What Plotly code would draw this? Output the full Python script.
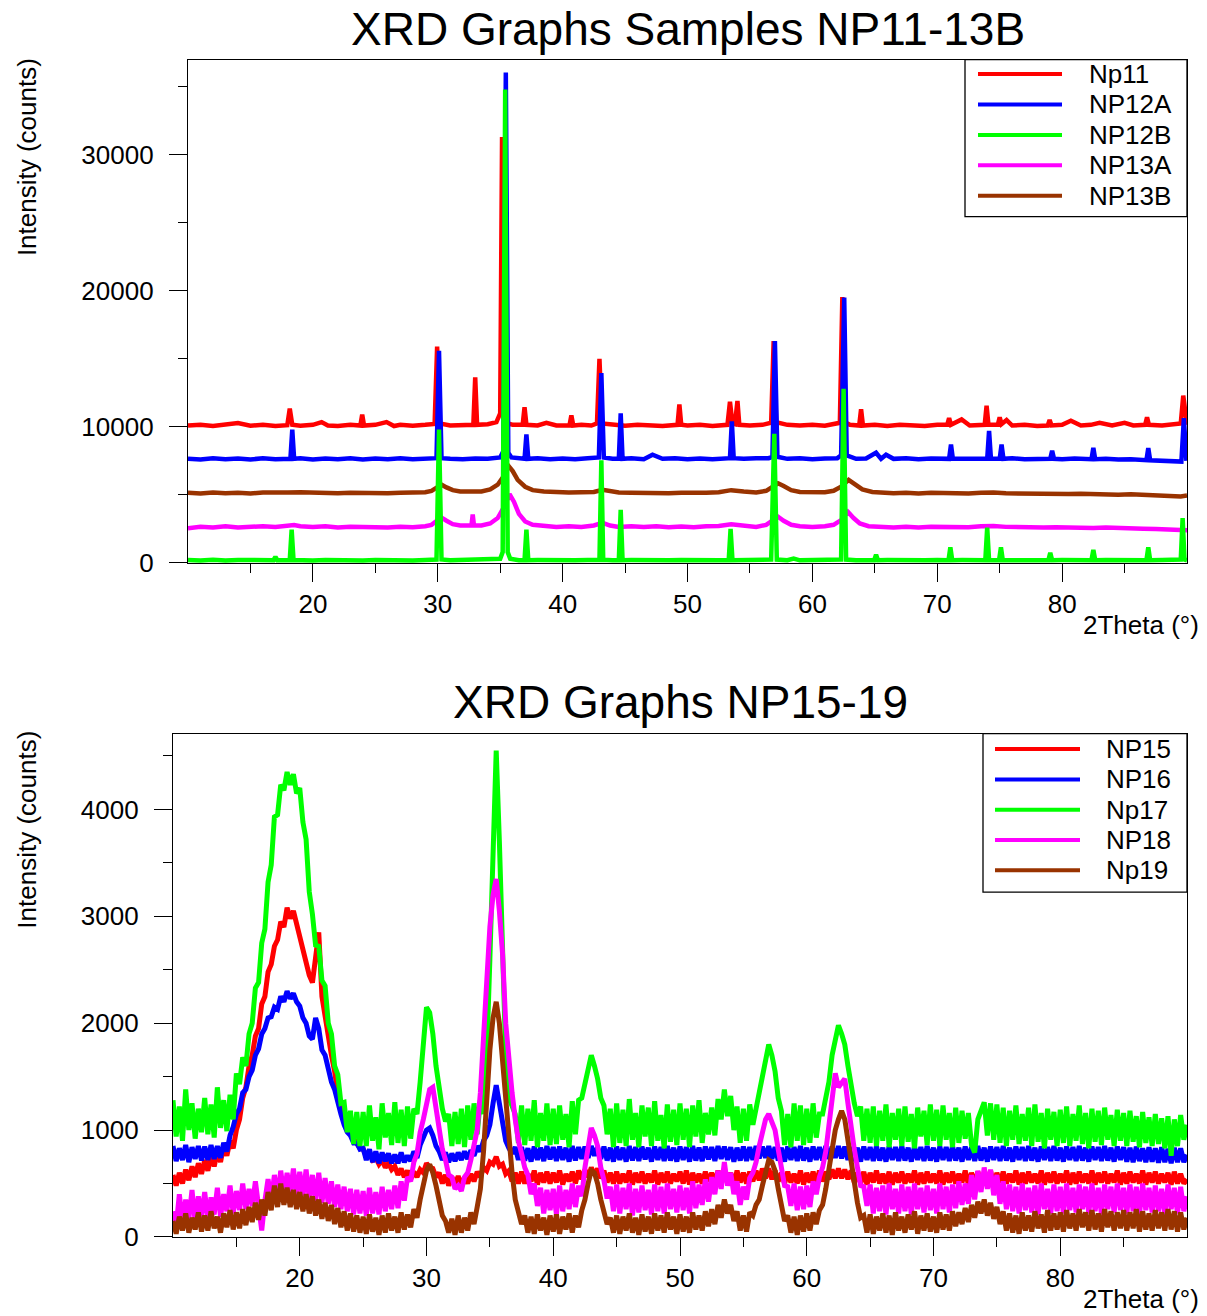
import plotly.graph_objects as go

FIG_W, FIG_H = 1207, 1332
# Layout positions below are given on a 1207 x 1316 grid and mapped to paper fractions
GRID_W, GRID_H = 1207, 1316
FONT = "Liberation Sans, Arial, Helvetica, sans-serif"

# ---------------------------------------------------------------------------
# Upper panel: samples NP11-13B, (2theta in degrees, intensity in counts)
# ---------------------------------------------------------------------------
np11 = [
    (10, 10100), (11, 10160), (12, 10060), (13, 10150), (14, 10280), (15, 10080),
    (16, 10160), (17, 10060), (17.95, 10120), (18.15, 11350), (18.35, 10150),
    (19, 10080), (20, 10150), (20.7, 10350), (21.2, 10100), (22, 10060), (23, 10150),
    (23.8, 10100), (23.95, 10900), (24.1, 10100), (25, 10150), (25.9, 10350),
    (26.5, 10060), (27, 10150), (28, 10080), (29, 10150),
    (29.75, 10220), (29.95, 15900), (30.15, 10250), (31, 10100), (32, 10150),
    (32.85, 10150), (33.0, 13650), (33.15, 10150), (34, 10200), (34.7, 10350),
    (35.0, 11000), (35.15, 31300), (35.3, 10600), (35.5, 10300), (36, 10150),
    (36.8, 10150), (36.95, 11450), (37.1, 10150), (38, 10100), (38.7, 10300),
    (39.5, 10100), (40.55, 10100), (40.7, 10850), (40.85, 10100), (41.5, 10150),
    (42.3, 10100), (42.75, 10250), (42.95, 15000), (43.15, 10250), (44, 10150),
    (45, 10080), (46, 10150), (47, 10100), (48, 10060),
    (49.2, 10150), (49.35, 11650), (49.5, 10150), (50, 10100), (51, 10150), (52, 10060),
    (53.2, 10150), (53.4, 11850), (53.6, 10250), (53.8, 10200), (54.0, 11900),
    (54.15, 10150), (55, 10100), (56, 10150), (56.7, 10300), (56.9, 16300),
    (57.1, 10350), (58, 10150), (59, 10100), (60, 10150), (61, 10080),
    (62.2, 10300), (62.4, 19550), (62.6, 10350), (63, 10150), (63.75, 10100),
    (63.9, 11300), (64.05, 10100), (65, 10150), (66, 10060), (67, 10150),
    (68, 10100), (69, 10060), (70, 10150), (70.8, 10150), (70.95, 10650),
    (71.1, 10150), (71.95, 10550), (72.6, 10100), (73.8, 10150), (73.95, 11550),
    (74.1, 10150), (74.85, 10150), (75.0, 10700), (75.15, 10200), (75.55, 10500),
    (76.0, 10100), (77, 10150), (78, 10060), (78.85, 10100), (79.0, 10500),
    (79.15, 10100), (80, 10150), (80.7, 10450), (81.5, 10100), (82.3, 10150),
    (83.0, 10300), (84.0, 10100), (85.0, 10300), (85.7, 10100), (86.65, 10150),
    (86.8, 10700), (86.95, 10150), (88, 10100), (89, 10150), (89.5, 10250),
    (89.7, 12300), (89.9, 10300), (90, 10150),
]

np12a = [
    (10, 7650), (11, 7600), (12, 7700), (13, 7620), (14, 7680), (15, 7600),
    (16, 7700), (17, 7620), (18.2, 7650), (18.35, 9800), (18.5, 7650), (19, 7700),
    (20, 7600), (21, 7680), (22, 7620), (23, 7700), (24, 7600), (25, 7680),
    (26, 7620), (27, 7700), (28, 7620), (29, 7650), (29.9, 7700), (30.1, 15600),
    (30.3, 7700), (31, 7650), (32, 7620), (33, 7680), (34, 7650), (35.0, 7750),
    (35.25, 8200), (35.45, 36050), (35.65, 8100), (35.9, 7750), (36.5, 7650),
    (36.95, 7650), (37.1, 9450), (37.25, 7650), (38, 7700), (39, 7620), (40, 7680),
    (41, 7620), (42, 7700), (42.9, 7750), (43.1, 13950), (43.3, 7750), (44, 7650),
    (44.5, 7650), (44.65, 11000), (44.8, 7650), (45.5, 7700), (46.5, 7620),
    (47.2, 7950), (48, 7650), (49, 7700), (50, 7620), (51, 7680), (52, 7620),
    (53.4, 7700), (53.55, 10400), (53.7, 7700), (54.5, 7650), (55.5, 7700),
    (56.5, 7700), (56.8, 7800), (57.0, 16300), (57.2, 7800), (58, 7650), (59, 7700),
    (60, 7620), (61, 7680), (62.0, 7700), (62.3, 7900), (62.55, 19500),
    (62.75, 7900), (63.5, 7650), (64.3, 7680), (65.1, 8100), (65.5, 7650),
    (65.9, 7950), (66.5, 7650), (67.5, 7700), (68.5, 7620), (69.5, 7680),
    (70.95, 7650), (71.1, 8700), (71.25, 7650), (72, 7650), (73, 7700),
    (74.0, 7650), (74.15, 9700), (74.3, 7650), (75.0, 7650), (75.15, 8700),
    (75.3, 7650), (76, 7700), (77, 7620), (78, 7650), (79.05, 7650), (79.2, 8250),
    (79.35, 7650), (80, 7620), (81, 7680), (82.35, 7620), (82.5, 8450),
    (82.65, 7620), (83.5, 7650), (84.5, 7600), (85.5, 7620), (86.75, 7550),
    (86.9, 8450), (87.05, 7550), (88, 7500), (89, 7400), (89.55, 7450),
    (89.75, 10650), (89.95, 7500),
]

np12b = [
    (10, 220), (11, 180), (12, 230), (13, 170), (14, 220), (15, 190), (16, 210),
    (16.85, 200), (17.0, 450), (17.15, 200), (18.15, 220), (18.3, 2450),
    (18.45, 220), (19, 200), (20, 180), (21, 220), (22, 190), (23, 210), (24, 180),
    (25, 220), (26, 190), (27, 210), (28, 180), (29, 220), (29.9, 250),
    (30.1, 9800), (30.3, 250), (31, 200), (32, 220), (33, 190), (34, 220),
    (35.0, 300), (35.2, 800), (35.4, 34800), (35.6, 800), (35.8, 300), (36.5, 200),
    (36.95, 200), (37.1, 2450), (37.25, 200), (38, 210), (39, 180), (40, 220),
    (41, 190), (42, 210), (42.95, 230), (43.1, 7550), (43.25, 230), (44, 200),
    (44.5, 200), (44.65, 3900), (44.8, 200), (45.5, 210), (46.5, 180), (47.5, 220),
    (48.5, 190), (49.5, 210), (50.5, 180), (51.5, 220), (52.5, 190), (53.3, 200),
    (53.45, 2500), (53.6, 200), (54.5, 210), (55.5, 190), (56.7, 250),
    (56.95, 9500), (57.15, 250), (58, 200), (58.5, 320), (59, 190), (60, 220),
    (61, 190), (62.3, 250), (62.5, 12800), (62.7, 250), (63.5, 200), (64.3, 180),
    (64.95, 200), (65.1, 600), (65.25, 200), (66, 210), (67, 180), (68, 220),
    (69, 190), (70, 210), (70.9, 200), (71.05, 1150), (71.2, 200), (72, 210),
    (73, 190), (73.85, 200), (74.0, 2600), (74.15, 200), (74.95, 200),
    (75.1, 1150), (75.25, 200), (76, 210), (77, 180), (78, 220), (78.9, 200),
    (79.05, 750), (79.2, 200), (80, 210), (81, 190), (82.35, 200), (82.5, 950),
    (82.65, 200), (83.5, 220), (84.5, 190), (85.5, 210), (86.75, 200),
    (86.9, 1150), (87.05, 200), (88, 210), (89, 190), (89.5, 250), (89.65, 3300),
    (89.8, 250), (90, 200),
]

np13a = [
    (10, 2550), (11, 2650), (12, 2600), (13, 2700), (14, 2600), (15, 2650),
    (16, 2700), (17, 2650), (18, 2700), (18.5, 2780), (19, 2700), (20, 2650),
    (21, 2700), (22, 2600), (23, 2650), (24, 2620), (25, 2650), (26, 2600),
    (27, 2650), (28, 2620), (29, 2700), (29.5, 2800), (30.0, 3150), (30.3, 3330),
    (30.7, 3100), (31.2, 2850), (31.8, 2750), (32.5, 2700), (32.7, 2750),
    (32.8, 3550), (32.9, 2750), (33.5, 2750), (34.2, 2900), (34.8, 3300),
    (35.3, 4100), (35.75, 5050), (36.1, 4500), (36.5, 3600), (37.0, 3050),
    (37.6, 2800), (38.5, 2700), (39.5, 2650), (40.5, 2700), (41.5, 2650),
    (42.5, 2750), (43.2, 2950), (43.8, 2750), (44.5, 2650), (45.5, 2700),
    (46.5, 2650), (47.5, 2700), (48.5, 2620), (49.5, 2680), (50.5, 2620),
    (51.5, 2700), (52.5, 2720), (53.5, 2850), (54.5, 2750), (55.5, 2650),
    (56.3, 2800), (56.9, 3150), (57.25, 3400), (57.7, 3100), (58.3, 2800),
    (59, 2700), (60, 2650), (61, 2700), (61.7, 2800), (62.3, 3150), (62.85, 3750),
    (63.3, 3300), (63.8, 2900), (64.5, 2700), (65.5, 2650), (66.5, 2600),
    (67.5, 2650), (68.5, 2600), (69.5, 2650), (70.5, 2620), (71.5, 2650),
    (72.5, 2620), (73.5, 2700), (74.5, 2720), (75.5, 2650), (76.5, 2620),
    (77.5, 2660), (78.5, 2600), (79.5, 2620), (80.5, 2580), (81.5, 2620),
    (82.5, 2560), (83.5, 2600), (84.5, 2550), (85.5, 2580), (86.5, 2520),
    (87.5, 2500), (88.5, 2450), (89.5, 2380), (90, 2400),
]

np13b = [
    (10, 5150), (11, 5100), (12, 5180), (13, 5120), (14, 5150), (15, 5100),
    (16, 5180), (17, 5150), (18, 5180), (19, 5200), (20, 5150), (21, 5180),
    (22, 5120), (23, 5160), (24, 5130), (25, 5170), (26, 5120), (27, 5160),
    (28, 5150), (29, 5200), (29.5, 5300), (30.0, 5550), (30.3, 5750),
    (30.7, 5550), (31.2, 5350), (31.8, 5250), (32.5, 5220), (33.5, 5250),
    (34.2, 5400), (34.8, 5750), (35.3, 6400), (35.65, 7150), (36.0, 6750),
    (36.4, 6100), (37.0, 5600), (37.6, 5350), (38.5, 5250), (39.5, 5200),
    (40.5, 5180), (41.5, 5200), (42.5, 5220), (43.2, 5380), (43.8, 5250),
    (44.5, 5180), (45.5, 5150), (46.5, 5120), (47.5, 5160), (48.5, 5120),
    (49.5, 5150), (50.5, 5120), (51.5, 5160), (52.5, 5200), (53.5, 5350),
    (54.5, 5250), (55.5, 5180), (56.3, 5300), (56.9, 5650), (57.25, 5850),
    (57.7, 5650), (58.3, 5350), (59, 5220), (60, 5180), (61, 5200), (61.7, 5300),
    (62.3, 5600), (62.9, 6100), (63.4, 5800), (64.0, 5400), (64.8, 5220),
    (65.5, 5150), (66.5, 5120), (67.5, 5150), (68.5, 5100), (69.5, 5150),
    (70.5, 5120), (71.5, 5140), (72.5, 5100), (73.5, 5150), (74.5, 5180),
    (75.5, 5120), (76.5, 5100), (77.5, 5130), (78.5, 5080), (79.5, 5100),
    (80.5, 5060), (81.5, 5090), (82.5, 5040), (83.5, 5060), (84.5, 5020),
    (85.5, 5040), (86.5, 4990), (87.5, 4960), (88.5, 4900), (89.5, 4880),
    (90, 4950),
]

# ---------------------------------------------------------------------------
# Lower panel: NP15-19, counts on a 0.25 degree scan grid from 10 to 90
# (ten readings per row, each row covers 2.5 degrees)
# ---------------------------------------------------------------------------
theta_scan = [round(10 + 0.25 * i, 2) for i in range(321)]

np15_counts = [
    580, 480, 600, 500, 630, 530, 660, 560, 690, 590,            # 10.0
    720, 620, 760, 660, 800, 700, 850, 760, 900, 830,            # 12.5
    1000, 1100, 1300, 1400, 1600, 1700, 1880, 1950, 2180, 2250,  # 15.0
    2480, 2550, 2720, 2780, 2950, 2900, 3080, 2980, 3050, 2930,  # 17.5
    2850, 2720, 2600, 2450, 2380, 2600, 2850, 2250, 2050, 1850,  # 20.0
    1700, 1550, 1350, 1250, 1150, 1050, 980, 920, 880, 830,      # 22.5
    820, 760, 780, 720, 740, 680, 720, 650, 690, 630,            # 25.0
    660, 580, 640, 560, 620, 540, 610, 560, 630, 600,            # 27.5
    690, 650, 640, 560, 600, 500, 580, 480, 560, 490,            # 30.0
    570, 480, 560, 500, 590, 520, 610, 560, 650, 620,            # 32.5
    700, 680, 750, 660, 680, 590, 620, 520, 600, 500,            # 35.0
    610, 500, 590, 520, 620, 490, 600, 510, 610, 500,            # 37.5
    600, 510, 620, 490, 590, 520, 610, 500, 620, 540,            # 40.0
    630, 560, 650, 580, 640, 550, 620, 510, 600, 500,            # 42.5
    610, 500, 590, 510, 620, 490, 600, 510, 610, 500,            # 45.0
    590, 510, 620, 490, 600, 510, 610, 500, 590, 520,            # 47.5
    610, 500, 620, 490, 600, 510, 590, 500, 610, 520,            # 50.0
    600, 510, 620, 500, 610, 520, 600, 490, 620, 510,            # 52.5
    600, 500, 610, 520, 620, 530, 640, 550, 640, 540,            # 55.0
    620, 520, 600, 500, 610, 510, 590, 500, 620, 490,            # 57.5
    600, 510, 610, 500, 620, 520, 610, 540, 630, 550,            # 60.0
    640, 550, 630, 540, 620, 510, 600, 500, 610, 490,            # 62.5
    600, 510, 620, 500, 590, 500, 610, 490, 600, 510,            # 65.0
    610, 500, 590, 510, 620, 490, 600, 500, 610, 510,            # 67.5
    590, 500, 620, 490, 600, 510, 610, 500, 590, 510,            # 70.0
    620, 490, 600, 500, 610, 510, 590, 500, 620, 490,            # 72.5
    600, 510, 610, 500, 590, 510, 620, 490, 600, 500,            # 75.0
    610, 510, 590, 500, 620, 490, 600, 510, 610, 500,            # 77.5
    590, 510, 620, 490, 600, 500, 610, 510, 590, 500,            # 80.0
    620, 490, 600, 510, 610, 500, 590, 510, 620, 490,            # 82.5
    600, 500, 610, 510, 590, 500, 620, 490, 600, 510,            # 85.0
    610, 500, 590, 510, 600, 490, 610, 500, 590, 500,            # 87.5
    540,                                                         # 90.0
]

np16_counts = [
    850, 710, 830, 720, 860, 700, 840, 730, 850, 715,            # 10.0
    845, 720, 860, 730, 850, 740, 880, 800, 950, 1030,           # 12.5
    1150, 1200, 1350, 1380, 1500, 1560, 1700, 1760, 1900, 1950,  # 15.0
    2050, 2060, 2150, 2130, 2250, 2200, 2300, 2230, 2280, 2200,  # 17.5
    2160, 2050, 2000, 1880, 1850, 2050, 1950, 1750, 1700, 1550,  # 20.0
    1450, 1380, 1250, 1150, 1050, 980, 950, 880, 880, 820,       # 22.5
    830, 720, 820, 700, 800, 690, 790, 710, 780, 690,            # 25.0
    770, 690, 790, 700, 760, 710, 800, 740, 860, 920,            # 27.5
    1000, 1020, 950, 850, 800, 720, 790, 700, 780, 710,          # 30.0
    790, 720, 800, 730, 810, 760, 850, 800, 900, 950,            # 32.5
    1050, 1250, 1420, 1250, 1050, 900, 830, 780, 840, 720,       # 35.0
    840, 715, 830, 705, 845, 720, 835, 710, 850, 725,            # 37.5
    840, 710, 845, 720, 835, 705, 850, 715, 840, 730,            # 40.0
    845, 740, 850, 760, 840, 730, 845, 715, 835, 705,            # 42.5
    845, 720, 835, 705, 850, 715, 840, 710, 845, 725,            # 45.0
    835, 705, 845, 720, 840, 710, 850, 715, 835, 705,            # 47.5
    845, 720, 840, 705, 850, 715, 835, 710, 845, 725,            # 50.0
    840, 710, 850, 730, 845, 720, 840, 705, 835, 715,            # 52.5
    845, 710, 840, 720, 850, 735, 845, 740, 850, 730,            # 55.0
    840, 715, 835, 705, 845, 720, 840, 710, 850, 715,            # 57.5
    835, 705, 845, 720, 840, 715, 850, 730, 845, 740,            # 60.0
    850, 735, 845, 720, 840, 710, 835, 705, 845, 720,            # 62.5
    840, 710, 850, 715, 835, 705, 845, 720, 840, 710,            # 65.0
    850, 715, 835, 705, 845, 720, 840, 710, 850, 715,            # 67.5
    835, 705, 845, 720, 840, 710, 850, 715, 835, 705,            # 70.0
    845, 720, 840, 710, 850, 715, 835, 705, 845, 720,            # 72.5
    840, 710, 850, 715, 835, 705, 845, 720, 840, 710,            # 75.0
    850, 715, 835, 705, 845, 720, 840, 710, 850, 715,            # 77.5
    835, 705, 845, 720, 840, 710, 850, 715, 835, 705,            # 80.0
    845, 720, 840, 710, 850, 715, 835, 705, 845, 720,            # 82.5
    840, 705, 835, 700, 845, 710, 830, 700, 840, 705,            # 85.0
    830, 695, 840, 700, 825, 690, 835, 700, 830, 700,            # 87.5
    770,                                                         # 90.0
]

np17_counts = [
    1280, 940, 1220, 900, 1380, 1000, 1250, 920, 1200, 980,      # 10.0
    1300, 960, 1240, 930, 1400, 1020, 1280, 990, 1330, 1100,     # 12.5
    1530, 1430, 1680, 1600, 1900, 2000, 2330, 2380, 2750, 2880,  # 15.0
    3320, 3480, 3930, 3950, 4230, 4180, 4350, 4230, 4330, 4150,  # 17.5
    4200, 3880, 3720, 3230, 3020, 2730, 2720, 2400, 2350, 2000,  # 20.0
    1900, 1600, 1520, 1250, 1260, 980, 1180, 870, 1170, 850,     # 22.5
    1170, 850, 1230, 900, 1120, 820, 1250, 930, 1160, 860,       # 25.0
    1260, 880, 1190, 850, 1220, 920, 1200, 1150, 1450, 1800,     # 27.5
    2150, 2100, 1900, 1600, 1350, 1200, 1080, 1150, 850, 1170,   # 30.0
    870, 1200, 840, 1230, 910, 1250, 960, 1280, 1150, 1700,      # 32.5
    2600, 3800, 4550, 3700, 2500, 1700, 1300, 1220, 1150, 880,   # 35.0
    1230, 860, 1200, 900, 1280, 840, 1160, 900, 1250, 860,       # 37.5
    1200, 870, 1230, 910, 1150, 840, 1270, 960, 1280, 1300,      # 40.0
    1450, 1600, 1700, 1600, 1480, 1300, 1230, 960, 1200, 840,    # 42.5
    1250, 880, 1190, 850, 1290, 910, 1160, 840, 1230, 940,       # 45.0
    1210, 850, 1270, 900, 1140, 830, 1240, 890, 1190, 860,       # 47.5
    1250, 910, 1200, 840, 1230, 940, 1280, 880, 1160, 960,       # 50.0
    1210, 950, 1290, 1100, 1380, 1130, 1320, 1000, 1220, 880,    # 52.5
    1200, 900, 1240, 1050, 1200, 1350, 1450, 1650, 1800, 1700,   # 55.0
    1550, 1300, 1180, 860, 1150, 840, 1250, 900, 1230, 860,      # 57.5
    1200, 880, 1250, 930, 1150, 1150, 1300, 1450, 1700, 1850,    # 60.0
    1980, 1900, 1800, 1600, 1400, 1250, 1130, 1220, 900, 1200,   # 62.5
    880, 1220, 850, 1180, 900, 1240, 840, 1160, 910, 1200,       # 65.0
    850, 1220, 890, 1150, 830, 1210, 940, 1180, 860, 1240,       # 67.5
    900, 1190, 850, 1230, 910, 1160, 840, 1210, 880, 1180,       # 70.0
    920, 1160, 860, 790, 1100, 1200, 1260, 950, 1250, 910,       # 72.5
    1240, 880, 1210, 850, 1180, 910, 1230, 870, 1150, 900,       # 75.0
    1210, 850, 1240, 890, 1160, 830, 1200, 910, 1170, 850,       # 77.5
    1190, 880, 1220, 850, 1150, 900, 1230, 870, 1160, 830,       # 80.0
    1200, 890, 1180, 860, 1210, 910, 1140, 850, 1190, 900,       # 82.5
    1160, 850, 1180, 890, 1130, 840, 1170, 880, 1120, 850,       # 85.0
    1150, 870, 1110, 830, 1130, 760, 1100, 850, 1140, 910,       # 87.5
    1050,                                                        # 90.0
]

np18_counts = [
    240, 100, 400, 130, 350, 170, 440, 140, 380, 190,            # 10.0
    420, 170, 370, 210, 460, 190, 400, 240, 480, 220,            # 12.5
    430, 250, 500, 260, 450, 290, 520, 270, 60, 340,             # 15.0
    540, 340, 580, 360, 620, 380, 600, 410, 640, 400,            # 17.5
    610, 380, 630, 360, 580, 340, 600, 320, 550, 310,            # 20.0
    520, 280, 490, 260, 470, 240, 450, 210, 440, 220,            # 22.5
    430, 200, 460, 220, 420, 210, 470, 240, 440, 260,            # 25.0
    480, 270, 520, 340, 560, 520, 700, 780, 980, 1100,           # 27.5
    1250, 1380, 1400, 1200, 1000, 820, 720, 580, 560, 450,       # 30.0
    480, 430, 560, 600, 720, 850, 1000, 1350, 1850, 2350,        # 32.5
    2900, 3200, 3350, 3050, 2650, 2000, 1650, 1350, 1100, 900,   # 35.0
    780, 650, 580, 400, 500, 290, 460, 220, 440, 250,            # 37.5
    450, 210, 480, 240, 440, 260, 500, 280, 480, 380,            # 40.0
    650, 850, 1020, 950, 850, 650, 530, 360, 470, 240,           # 42.5
    490, 220, 460, 260, 500, 200, 450, 230, 480, 250,            # 45.0
    440, 210, 490, 240, 470, 220, 500, 260, 450, 230,            # 47.5
    480, 250, 460, 220, 520, 270, 490, 300, 540, 330,            # 50.0
    560, 400, 620, 450, 700, 480, 600, 400, 520, 300,            # 52.5
    470, 350, 550, 600, 700, 850, 1000, 1100, 1150, 1080,        # 55.0
    1000, 820, 650, 480, 470, 290, 500, 250, 470, 260,           # 57.5
    480, 280, 520, 400, 560, 650, 800, 1050, 1300, 1530,         # 60.0
    1400, 1450, 1480, 1250, 1000, 820, 650, 480, 470, 290,       # 62.5
    490, 220, 460, 240, 480, 210, 500, 260, 450, 220,            # 65.0
    490, 240, 470, 210, 500, 260, 460, 230, 480, 250,            # 67.5
    450, 220, 500, 260, 470, 230, 490, 270, 520, 300,            # 70.0
    500, 310, 580, 350, 620, 420, 650, 450, 630, 390,            # 72.5
    580, 310, 520, 260, 490, 240, 470, 220, 500, 250,            # 75.0
    460, 230, 480, 210, 500, 260, 450, 220, 490, 240,            # 77.5
    470, 220, 500, 250, 460, 230, 490, 260, 470, 220,            # 80.0
    500, 240, 460, 210, 490, 260, 470, 230, 500, 250,            # 82.5
    460, 220, 490, 240, 470, 210, 500, 250, 460, 230,            # 85.0
    480, 240, 450, 210, 490, 260, 460, 220, 470, 240,            # 87.5
    380,                                                         # 90.0
]

np19_counts = [
    150, 30, 190, 60, 220, 40, 180, 70, 230, 50,                 # 10.0
    200, 60, 240, 80, 190, 40, 220, 90, 250, 70,                 # 12.5
    230, 80, 260, 110, 280, 140, 320, 160, 350, 200,             # 15.0
    420, 250, 480, 280, 500, 300, 460, 280, 440, 260,            # 17.5
    420, 240, 400, 220, 380, 200, 350, 170, 320, 150,            # 20.0
    300, 120, 270, 90, 240, 60, 220, 50, 200, 40,                # 22.5
    190, 30, 210, 50, 180, 20, 200, 40, 220, 60,                 # 25.0
    190, 40, 230, 70, 210, 90, 260, 180, 350, 480,               # 27.5
    620, 680, 600, 480, 330, 200, 150, 40, 170, 20,              # 30.0
    200, 40, 180, 60, 230, 120, 280, 450, 800, 1350,             # 32.5
    1750, 2050, 2200, 2000, 1650, 1300, 900, 600, 350, 220,      # 35.0
    120, 200, 40, 190, 30, 210, 60, 180, 20, 200,                # 37.5
    50, 210, 30, 190, 70, 220, 40, 200, 90, 250,                 # 40.0
    350, 500, 620, 600, 500, 350, 220, 120, 180, 40,             # 42.5
    200, 30, 190, 60, 220, 40, 180, 20, 210, 50,                 # 45.0
    190, 30, 220, 60, 200, 40, 230, 70, 190, 30,                 # 47.5
    210, 50, 190, 40, 230, 70, 200, 60, 240, 100,                # 50.0
    260, 120, 300, 180, 350, 220, 300, 150, 240, 60,             # 52.5
    200, 50, 230, 200, 300, 350, 480, 620, 720, 700,             # 55.0
    620, 450, 320, 150, 200, 40, 190, 20, 200, 50,               # 57.5
    220, 60, 230, 120, 250, 300, 450, 650, 850, 1000,            # 60.0
    1100, 1180, 1100, 900, 700, 500, 320, 180, 200, 40,          # 62.5
    210, 30, 190, 60, 220, 40, 200, 20, 230, 60,                 # 65.0
    190, 40, 210, 70, 240, 30, 200, 60, 220, 50,                 # 67.5
    190, 40, 230, 70, 210, 60, 240, 100, 230, 120,               # 70.0
    270, 140, 300, 180, 330, 220, 350, 200, 320, 170,            # 72.5
    280, 120, 240, 60, 220, 40, 200, 30, 230, 60,                # 75.0
    200, 50, 240, 80, 210, 40, 250, 60, 220, 70,                 # 77.5
    230, 50, 250, 80, 220, 60, 260, 90, 230, 60,                 # 80.0
    250, 70, 220, 50, 260, 90, 240, 60, 230, 80,                 # 82.5
    250, 60, 230, 80, 260, 50, 240, 70, 220, 60,                 # 85.0
    250, 80, 230, 60, 260, 70, 240, 50, 230, 70,                 # 87.5
    180,                                                         # 90.0
]

# Series names in legend order, with their line colours
top_names = ["Np11", "NP12A", "NP12B", "NP13A", "NP13B"]
top_data = {"Np11": np11, "NP12A": np12a, "NP12B": np12b, "NP13A": np13a, "NP13B": np13b}
bottom_names = ["NP15", "NP16", "Np17", "NP18", "Np19"]
bottom_data = {"NP15": np15_counts, "NP16": np16_counts, "Np17": np17_counts,
               "NP18": np18_counts, "Np19": np19_counts}
palette = ["#FF0000", "#0000FF", "#00FF00", "#FF00FF", "#993300"]

top_draw_order = ["NP13B", "NP13A", "Np11", "NP12A", "NP12B"]
bottom_draw_order = ["NP15", "NP16", "Np17", "NP18", "Np19"]

x_major = [20, 30, 40, 50, 60, 70, 80]
x_minor = [15, 25, 35, 45, 55, 65, 75, 85]
top_y_major = [0, 10000, 20000, 30000]
top_y_minor = [5000, 15000, 25000, 35000]
bottom_y_major = [0, 1000, 2000, 3000, 4000]
bottom_y_minor = [500, 1500, 2500, 3500, 4500]


def px(x):
    return x / GRID_W


def py(y):
    return 1 - y / GRID_H


fig = go.Figure()

for name in top_draw_order:
    color = palette[top_names.index(name)]
    pts = top_data[name]
    fig.add_trace(go.Scatter(
        x=[p[0] for p in pts], y=[p[1] for p in pts], mode="lines", name=name,
        line=dict(color=color, width=4.5), xaxis="x", yaxis="y",
        showlegend=False, hoverinfo="skip"))

for name in bottom_draw_order:
    color = palette[bottom_names.index(name)]
    fig.add_trace(go.Scatter(
        x=theta_scan, y=bottom_data[name], mode="lines", name=name,
        line=dict(color=color, width=5), xaxis="x2", yaxis="y2",
        showlegend=False, hoverinfo="skip"))

tick_font = dict(family=FONT, size=26, color="black")
axis_style = dict(showline=True, linecolor="black", linewidth=1.3, mirror=True,
                  ticks="outside", ticklen=18, tickwidth=1.3, tickcolor="black",
                  showgrid=False, zeroline=False, tickfont=tick_font)
minor_style = dict(ticks="outside", ticklen=9, tickwidth=1.3, tickcolor="black",
                   showgrid=False)

fig.update_layout(
    width=FIG_W, height=FIG_H,
    margin=dict(l=0, r=0, t=0, b=0),
    paper_bgcolor="white", plot_bgcolor="white",
    xaxis=dict(domain=[px(188), px(1187)], range=[10, 90], anchor="y",
               tickvals=x_major, ticktext=[str(v) for v in x_major],
               minor=dict(tickvals=x_minor, **minor_style), **axis_style),
    yaxis=dict(domain=[py(562.5), py(59.5)], range=[0, 37000], anchor="x",
               tickvals=top_y_major, ticktext=[str(v) for v in top_y_major],
               minor=dict(tickvals=top_y_minor, **minor_style),
               ticklabelstandoff=10, **axis_style),
    xaxis2=dict(domain=[px(173), px(1187)], range=[10, 90], anchor="y2",
                tickvals=x_major, ticktext=[str(v) for v in x_major],
                minor=dict(tickvals=x_minor, **minor_style), **axis_style),
    yaxis2=dict(domain=[py(1236), py(733)], range=[0, 4710], anchor="x2",
                tickvals=bottom_y_major, ticktext=[str(v) for v in bottom_y_major],
                minor=dict(tickvals=bottom_y_minor, **minor_style),
                ticklabelstandoff=10, **axis_style),
)

annotations = []
shapes = []


def text_at(x, y, text, size, xanchor="center", angle=0):
    annotations.append(dict(
        x=px(x), y=py(y), xref="paper", yref="paper", text=text, showarrow=False,
        xanchor=xanchor, yanchor="middle", textangle=angle,
        font=dict(family=FONT, size=size, color="black")))


# Titles and axis labels
text_at(688, 29, "XRD Graphs Samples NP11-13B", 46)
text_at(680, 701, "XRD Graphs NP15-19", 46)
text_at(27, 157, "Intensity (counts)", 26, angle=-90)
text_at(27, 829, "Intensity (counts)", 26, angle=-90)
text_at(1201, 625, "2Theta (°)", 26, xanchor="right")
text_at(1201, 1298, "2Theta (°)", 26, xanchor="right")


def legend_box(x0, y0, x1, y1, line_x0, line_x1, text_x, row_y0, row_step, names):
    shapes.append(dict(type="rect", xref="paper", yref="paper",
                       x0=px(x0), x1=px(x1), y0=py(y1), y1=py(y0),
                       line=dict(color="black", width=1.3), fillcolor="white",
                       layer="above"))
    for i, name in enumerate(names):
        yy = row_y0 + row_step * i
        shapes.append(dict(type="line", xref="paper", yref="paper",
                           x0=px(line_x0), x1=px(line_x1), y0=py(yy), y1=py(yy),
                           line=dict(color=palette[i], width=4), layer="above"))
        text_at(text_x, yy, name, 26, xanchor="left")


legend_box(965, 59.5, 1187, 216.5, 978, 1062, 1087, 74, 30.4, top_names)
legend_box(983, 733, 1187, 891.5, 995, 1080, 1104, 748.5, 30.3, bottom_names)

fig.update_layout(annotations=annotations, shapes=shapes)

fig.write_html("out.html")
